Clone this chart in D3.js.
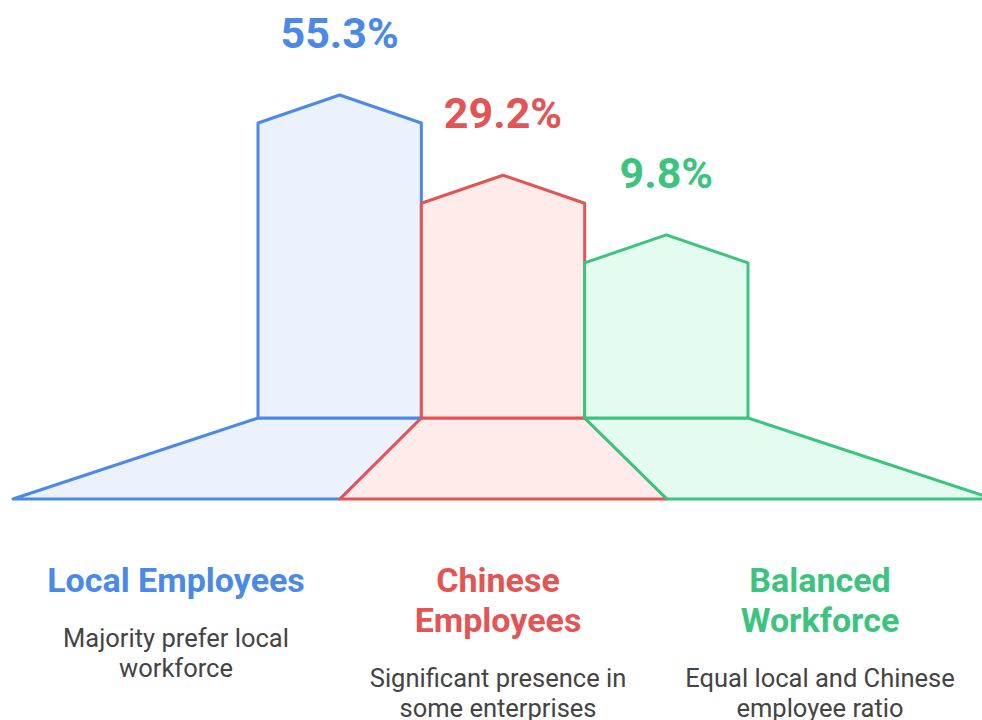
<!DOCTYPE html>
<html>
<head>
<meta charset="utf-8">
<script src="https://cdn.jsdelivr.net/npm/d3@7"></script>
<style>
    html, body { margin: 0; padding: 0; background: #fff; }
    svg { display: block; font-family: Roboto, "Noto Sans", sans-serif; }
</style>
</head>
<body>
<div id="chart"></div>
<script>
"use strict";

const WIDTH = 982;
const HEIGHT = 720;

const categories = ["local", "chinese", "balanced"];
const values = [55.3, 29.2, 9.8];
const titles = [["Local Employees"], ["Chinese", "Employees"], ["Balanced", "Workforce"]];
const descriptions = [
    ["Majority prefer local", "workforce"],
    ["Significant presence in", "some enterprises"],
    ["Equal local and Chinese", "employee ratio"]
];

const strokes = ["#4a89e8", "#e35454", "#3cc47f"];
const fills = ["#ebf2fe", "#feebea", "#e3fcef"];

const BAR_BOTTOM = 418;
const BASE_BOTTOM = 499;
const ROOF = 28;

const svg = d3.select("#chart")
    .append("svg")
    .attr("width", WIDTH)
    .attr("height", HEIGHT);

const x = d3.scaleBand().domain(categories).range([258, 748]);
const xBase = d3.scaleBand().domain(categories).range([13, 994]);
const xText = d3.scaleBand().domain(categories).range([15, 981]);
const y = d3.scaleLinear().domain([0, d3.max(values)]).range([293, 123]);

const color = d3.scaleOrdinal().domain(categories).range(strokes);
const fill = d3.scaleOrdinal().domain(categories).range(fills);

const rows = categories.map((key, i) => ({
    key,
    value: values[i],
    title: titles[i],
    description: descriptions[i]
}));

// Trapezoid bases first so the bars sit on top
svg.selectAll(".base")
    .data(rows)
    .enter()
    .append("path")
    .classed("base", true)
    .attr("d", d => {
        const x0 = x(d.key), x1 = x0 + x.bandwidth();
        const b0 = xBase(d.key), b1 = b0 + xBase.bandwidth();
        return `M${x0},${BAR_BOTTOM}L${x1},${BAR_BOTTOM}L${b1},${BASE_BOTTOM}L${b0},${BASE_BOTTOM}Z`;
    })
    .attr("fill", d => fill(d.key))
    .attr("stroke", d => color(d.key))
    .attr("stroke-width", 3)
    .attr("stroke-linejoin", "round");

// House-shaped bars
svg.selectAll(".bar")
    .data(rows)
    .enter()
    .append("path")
    .classed("bar", true)
    .attr("d", d => {
        const x0 = x(d.key), x1 = x0 + x.bandwidth();
        const xm = x0 + x.bandwidth() / 2;
        const top = y(d.value);
        return `M${x0},${BAR_BOTTOM}L${x0},${top}L${xm},${top - ROOF}L${x1},${top}L${x1},${BAR_BOTTOM}Z`;
    })
    .attr("fill", d => fill(d.key))
    .attr("stroke", d => color(d.key))
    .attr("stroke-width", 3)
    .attr("stroke-linejoin", "round");

// Value labels
svg.selectAll(".value")
    .data(rows)
    .enter()
    .append("text")
    .classed("value", true)
    .attr("x", d => x(d.key) + x.bandwidth() / 2)
    .attr("y", d => y(d.value) - ROOF - 47)
    .attr("text-anchor", "middle")
    .attr("font-size", 43)
    .attr("font-weight", 700)
    .attr("fill", d => color(d.key))
    .text(d => d.value.toFixed(1) + "%");

// Titles and descriptions under the bases
const labels = svg.selectAll(".label")
    .data(rows)
    .enter()
    .append("g")
    .classed("label", true)
    .attr("transform", d => `translate(${xText(d.key) + xText.bandwidth() / 2},0)`);

labels.each(function (d) {
    const g = d3.select(this);
    d.title.forEach((line, i) => {
        g.append("text")
            .attr("y", 592 + i * 40)
            .attr("text-anchor", "middle")
            .attr("font-size", 34)
            .attr("font-weight", 700)
            .attr("fill", color(d.key))
            .text(line);
    });
    const start = 592 + (d.title.length - 1) * 40 + 55;
    d.description.forEach((line, i) => {
        g.append("text")
            .attr("y", start + i * 30)
            .attr("text-anchor", "middle")
            .attr("font-size", 25.5)
            .attr("fill", "#444444")
            .text(line);
    });
});
</script>
</body>
</html>
